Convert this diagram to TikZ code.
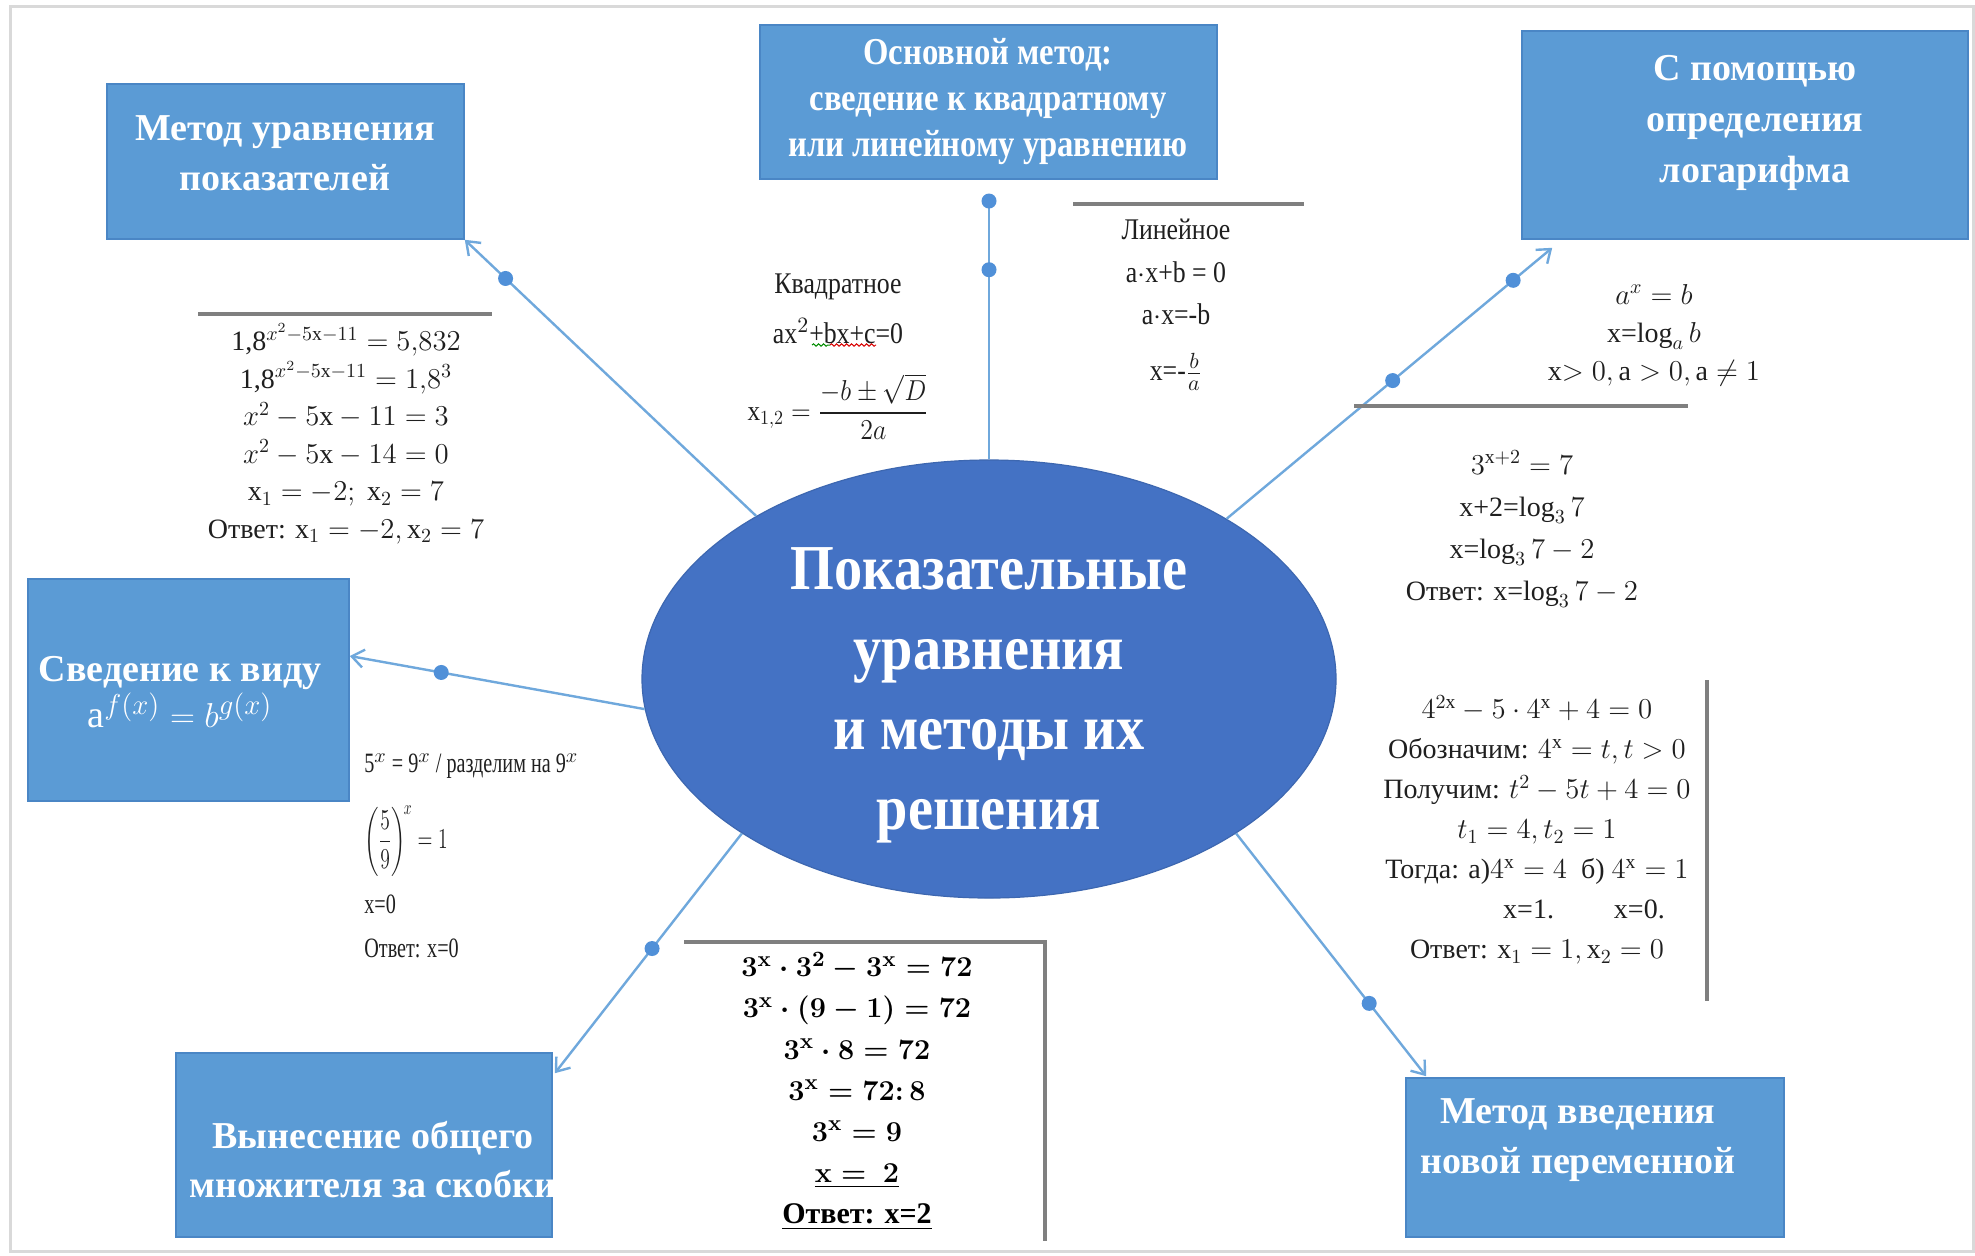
\documentclass[tikz,border=0pt]{standalone}
\usepackage{amsmath}
\usepackage{graphicx}
\usepackage{fontspec}
\setmainfont{Liberation Serif}
\newfontfamily\ellfont[FakeStretch=0.88]{Liberation Serif}
\newfontfamily\narrowfont[FakeStretch=0.86]{Liberation Serif}
\newfontfamily\tightfont[FakeStretch=0.72]{Liberation Serif}
\usetikzlibrary{arrows.meta,shapes.geometric,decorations.pathmorphing,calc}
\definecolor{boxblue}{HTML}{5B9BD5}
\definecolor{boxedge}{HTML}{4A86C5}
\definecolor{ellblue}{HTML}{4472C4}
\definecolor{linkblue}{HTML}{6FA8DC}
\definecolor{dotblue}{HTML}{5090D8}
\definecolor{rulegray}{HTML}{7F7F7F}
\definecolor{inkgray}{HTML}{1F1F1F}
\begin{document}
\begin{tikzpicture}[x=0.5pt,y=-0.5pt,
  mbox/.style={rectangle, fill=boxblue, draw=boxedge, line width=0.8pt, inner sep=0pt},
  btext/.style={text=white, font=\bfseries\fontsize{19}{24.5}\selectfont, align=center, inner sep=0pt},
  eq/.style={align=center, inner sep=0pt, text=inkgray, font=\fontsize{14}{19}\selectfont},
  link/.style={draw=linkblue, line width=1.2pt},
  arr/.style={link, -{Straight Barb[length=6pt,width=9pt]}},
  dot/.style={circle, fill=dotblue, inner sep=0pt, minimum size=7.5pt},
  rulel/.style={draw=rulegray, line width=1.6pt}]
\useasboundingbox (0,0) rectangle (1975,1255);
\fill[white] (0,0) rectangle (1975,1255);
\draw[black!15, line width=1.5pt] (10,6) rectangle (1973,1251);

% central ellipse
\node[ellipse, fill=ellblue, draw=ellblue!90!black, line width=0.6pt, inner sep=0pt,
      minimum width=347pt, minimum height=219pt] (ell) at (989,679) {};
\node[text=white, align=center, inner sep=0pt,
      font=\ellfont\bfseries\fontsize{32}{40}\selectfont] (ellt) at (989,695)
  {Показательные\\уравнения\\и методы их\\решения};

% method boxes
\node[mbox, minimum width=178.5pt, minimum height=77.5pt] (boxA) at (285.5,161.5) {};
\node[btext, font=\bfseries\fontsize{19}{25}\selectfont] (tA) at (285,153) {Метод уравнения\\показателей};

\node[mbox, minimum width=228.5pt, minimum height=77pt] (boxB) at (988.5,102) {};
\node[btext, font=\narrowfont\bfseries\fontsize{19}{23}\selectfont] (tB) at (988,102) {Основной метод:\\сведение к квадратному\\или линейному уравнению};

\node[mbox, minimum width=223pt, minimum height=104pt] (boxC) at (1745,135) {};
\node[btext, font=\bfseries\fontsize{19}{25.5}\selectfont] (tC) at (1755,123) {С помощью\\определения\\логарифма};

\node[mbox, minimum width=160.5pt, minimum height=111pt] (boxD) at (188.5,690) {};
\node[btext, font=\bfseries\fontsize{19}{23}\selectfont] (tD) at (180,692) {Сведение к виду\\$\mathrm{a}^{f(x)}=b^{g(x)}$};

\node[mbox, minimum width=188pt, minimum height=92pt] (boxE) at (364,1145) {};
\node[btext, font=\bfseries\fontsize{19}{24.5}\selectfont] (tE) at (373,1160) {Вынесение общего\\множителя за скобки};

\node[mbox, minimum width=189pt, minimum height=79.5pt] (boxF) at (1595,1157.5) {};
\node[btext, font=\bfseries\fontsize{19}{25}\selectfont] (tF) at (1578,1140) {Метод введения\\новой переменной};

% connectors
\draw[arr] (ell.145.6) -- (boxA.south east) node[dot,pos=0.86] (dA) {};
\coordinate (bEnd) at (989,201);
\draw[link] (ell.north) -- (bEnd) node[dot,pos=1] (dB1) {} node[dot,pos=0.734] (dB2) {};
\coordinate (cEnd) at ($(boxC.south west)+(31,8)$);
\draw[arr] (ell.34) -- (cEnd) node[dot,pos=0.51] (dC1) {} node[dot,pos=0.88] (dC2) {};
\coordinate (dEnd) at ($(boxD.east)+(0,-34)$);
\draw[arr] (ell.185.5) -- (dEnd) node[dot,pos=0.69] (dD) {};
\coordinate (eEnd) at ($(boxE.north east)+(2,21)$);
\draw[arr] (ell.212) -- (eEnd) node[dot,pos=0.48] (dE) {};
\coordinate (fEnd) at ($(boxF.north west)+(21,-1)$);
\draw[arr] (ell.328) -- (fEnd) node[dot,pos=0.70] (dF) {};

% gray rules
\draw[rulel] (198,314) -- (492,314);
\draw[rulel] (1073,204) -- (1304,204);
\draw[rulel] (1354,406) -- (1688,406);
\draw[rulel] (1707,680) -- (1707,1001);
\draw[rulel] (684,942) -- (1045,942) -- (1045,1241);

% block 1: exponents
\node[eq, font=\fontsize{14}{18.8}\selectfont] (t1) at (346,434)
 {1,8$^{x^2-5\mathrm{x}-11}=5{,}832$\\
  1,8$^{x^2-5\mathrm{x}-11}=1{,}8^3$\\
  $x^2-5\mathrm{x}-11=3$\\
  $x^2-5\mathrm{x}-14=0$\\
  $\mathrm{x}_1=-2;\ \mathrm{x}_2=7$\\
  Ответ: $\mathrm{x}_1=-2,\mathrm{x}_2=7$};

% quadratic
\node[eq, font=\narrowfont\fontsize{15}{19}\selectfont] (q1) at (838,287) {Квадратное};
\node[eq, font=\narrowfont\fontsize{15}{19}\selectfont] (q2) at (838,331) {ax$^2$+bx+c=0};
\node[eq, font=\fontsize{14}{19}\selectfont] (q3) at (838,407) {\scalebox{0.9}[1]{$\mathrm{x}_{1,2}=\dfrac{-b\pm\sqrt{D}}{2a}$}};
\draw[green!55!black, line width=0.5pt, decorate, decoration={snake,amplitude=0.6pt,segment length=2.5pt}] (812,345) -- (830,345);
\draw[red!85!black, line width=0.5pt, decorate, decoration={snake,amplitude=0.6pt,segment length=2.5pt}] (830,345) -- (876,345);

% linear
\node[eq, font=\narrowfont\fontsize{15}{19}\selectfont] (l1) at (1176,229) {Линейное};
\node[eq, font=\narrowfont\fontsize{15}{19}\selectfont] (l2) at (1176,272) {a$\cdot$x+b = 0};
\node[eq, font=\narrowfont\fontsize{15}{19}\selectfont] (l3) at (1176,314) {a$\cdot$x=-b};
\node[eq, font=\narrowfont\fontsize{15}{19}\selectfont] (l4) at (1176,372) {x=-$\frac{b}{a}$};

% logarithm definition
\node[eq, font=\fontsize{14}{19}\selectfont] (t4) at (1654,335)
 {$a^x=b$\\ x=$\log_a b$\\ x$>0,\mathrm{a}>0,\mathrm{a}\neq1$};

\node[eq, font=\fontsize{14}{21}\selectfont] (t5) at (1522,529)
 {$3^{\mathrm{x}+2}=7$\\ x+2=$\log_3 7$\\ x=$\log_3 7-2$\\ Ответ: x=$\log_3 7-2$};

% new variable
\node[eq, font=\fontsize{14}{20}\selectfont] (t6) at (1537,830)
 {$4^{2\mathrm{x}}-5\cdot4^{\mathrm{x}}+4=0$\\
  Обозначим: $4^{\mathrm{x}}=t,t>0$\\
  Получим: $t^2-5t+4=0$\\
  $t_1=4,t_2=1$\\
  Тогда: а)$4^{\mathrm{x}}=4$\enspace б) $4^{\mathrm{x}}=1$\\
  \hspace*{47pt}x=1.\hspace{30pt}x=0.\\
  Ответ: $\mathrm{x}_1=1,\mathrm{x}_2=0$};

% reduction to a^f = b^g
\node[eq, anchor=west, font=\tightfont\fontsize{14}{19}\selectfont] (s1) at (364,766) {5$^x$ = 9$^x$ / разделим на 9$^x$};
\node[eq, anchor=west, font=\fontsize{14}{19}\selectfont] (s2) at (364,841) {\scalebox{0.68}[1]{$\left(\dfrac{5}{9}\right)^{\!x}=1$}};
\node[eq, anchor=west, font=\tightfont\fontsize{14}{19}\selectfont] (s3) at (364,904) {x=0};
\node[eq, anchor=west, font=\tightfont\fontsize{14}{19}\selectfont] (s4) at (364,948) {Ответ: x=0};

% common factor
\node[eq, text=black, font=\bfseries\boldmath\fontsize{15}{20.6}\selectfont] (t8) at (857,1091)
 {$3^{\mathbf{x}}\cdot3^2-3^{\mathbf{x}}=72$\\
  $3^{\mathbf{x}}\cdot(9-1)=72$\\
  $3^{\mathbf{x}}\cdot8=72$\\
  $3^{\mathbf{x}}=72{:}\,8$\\
  $3^{\mathbf{x}}=9$\\
  \underline{$\mathbf{x}=\ 2$}\\
  \underline{Ответ: x=2}};
\end{tikzpicture}
\end{document}
